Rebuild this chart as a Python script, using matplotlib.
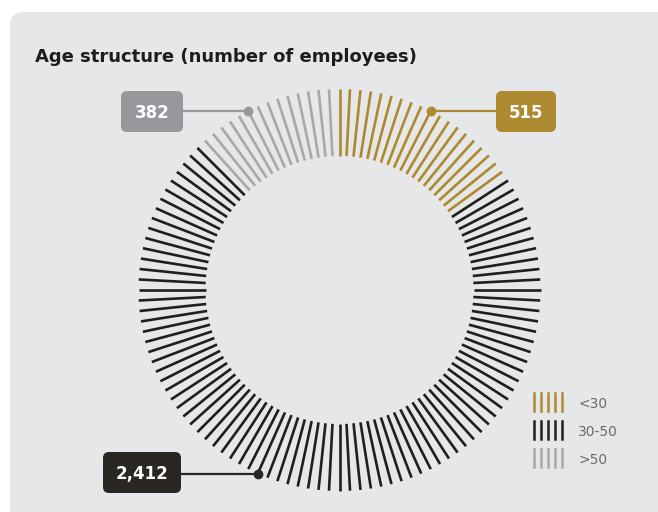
import numpy as np
import matplotlib.pyplot as plt
from matplotlib.patches import FancyBboxPatch

# data
groups = ['<30', '30-50', '>50']
employees = [515, 2412, 382]
value_labels = ['515', '2,412', '382']
colors = ['#ad8a2f', '#211f1c', '#a7a8aa']
box_colors = ['#ad8a2f', '#2a2723', '#97989b']

n_ticks = 120
total = sum(employees)
counts = [round(v / total * n_ticks) for v in employees]
counts[1] = n_ticks - counts[0] - counts[2]

# order around the circle (clockwise from top): <30, 30-50, >50
cx, cy = 339.5, 290
r_in, r_out = 134, 201
step = 360 / n_ticks

fig = plt.figure(figsize=(6.58, 5.12), dpi=100)
ax = fig.add_axes([0, 0, 1, 1])
ax.set_xlim(0, 658)
ax.set_ylim(512, 0)
ax.axis('off')

# background panel
panel = FancyBboxPatch((10, 12), 700, 560, boxstyle='round,pad=0,rounding_size=14',
                       fc='#e6e7e9', ec='none')
ax.add_patch(panel)

ax.text(35, 57, 'Age structure (number of employees)', fontsize=13,
        fontweight='bold', color='#1f1d1b', va='center', ha='left',
        family='DejaVu Sans')

# radial ticks
start = 0
for i, c in enumerate(counts):
    ang = np.deg2rad((np.arange(start, start + c)) * step)
    for a in ang:
        x0, y0 = cx + r_in * np.sin(a), cy - r_in * np.cos(a)
        x1, y1 = cx + r_out * np.sin(a), cy - r_out * np.cos(a)
        ax.plot([x0, x1], [y0, y1], color=colors[i], lw=1.9, solid_capstyle='butt')
    start += c

# callouts: tick index carrying the dot, label box position
dot_index = [9, 68, 111]
box_pos = [(496, 91, 60, 41), (103, 452, 78, 41), (121, 91, 62, 41)]
for i in range(3):
    a = np.deg2rad(dot_index[i] * step)
    dx, dy = cx + r_out * np.sin(a), cy - r_out * np.cos(a)
    bx, by, bw, bh = box_pos[i]
    edge = bx if dx < bx else bx + bw
    ax.plot([edge, dx], [dy, dy], color=box_colors[i], lw=1.6)
    ax.plot(dx, dy, 'o', ms=6, color=box_colors[i])
    ax.add_patch(FancyBboxPatch((bx, by), bw, bh, boxstyle='round,pad=0,rounding_size=6',
                                fc=box_colors[i], ec='none'))
    ax.text(bx + bw / 2, by + bh / 2 + 1, value_labels[i], color='white', fontsize=12,
            fontweight='bold', ha='center', va='center')

# legend
leg_y = [402, 430, 458]
for i, g in enumerate(groups):
    for k in range(5):
        x = 534 + k * 7
        ax.plot([x, x], [leg_y[i] - 9, leg_y[i] + 9], color=colors[i], lw=1.8)
    ax.text(578, leg_y[i] + 2, g, fontsize=10, color='#6b6b6b', va='center', ha='left')

fig.savefig('out.png', dpi=100, facecolor='white')
